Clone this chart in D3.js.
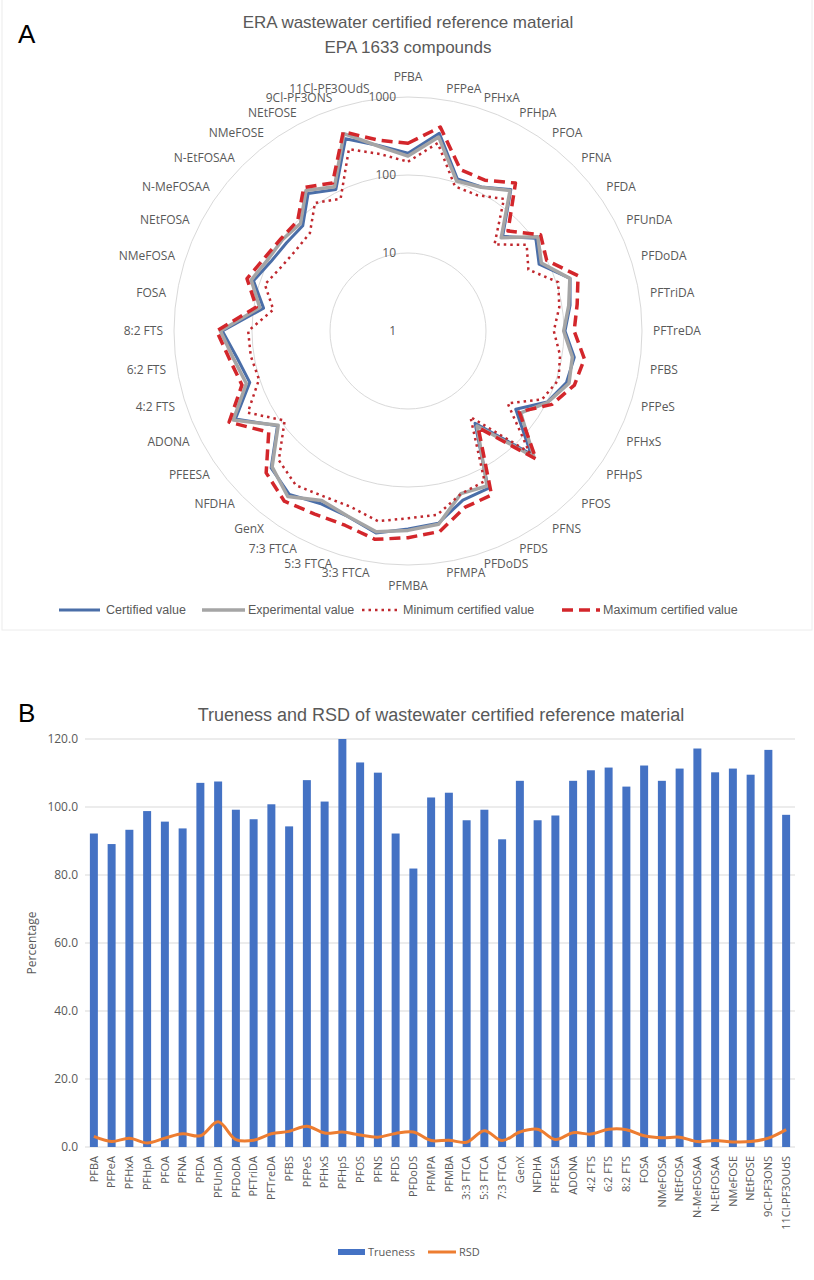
<!DOCTYPE html>
<html lang="en">
<head>
	<meta charset="UTF-8">
	<title>ERA wastewater CRM</title>
	<style>
		body { margin: 0; background: #fff; }
		svg text { fill: #595959; }
	</style>
</head>
<body>
	<svg width="814" height="1280" id="viz"></svg>

	<script src="https://d3js.org/d3.v7.min.js"></script>
	<script>

	// compounds, in chart order
	const categories = ["PFBA", "PFPeA", "PFHxA", "PFHpA", "PFOA", "PFNA", "PFDA", "PFUnDA", "PFDoDA", "PFTriDA",
		"PFTreDA", "PFBS", "PFPeS", "PFHxS", "PFHpS", "PFOS", "PFNS", "PFDS", "PFDoDS", "PFMPA",
		"PFMBA", "3:3 FTCA", "5:3 FTCA", "7:3 FTCA", "GenX", "NFDHA", "PFEESA", "ADONA", "4:2 FTS", "6:2 FTS",
		"8:2 FTS", "FOSA", "NMeFOSA", "NEtFOSA", "N-MeFOSAA", "N-EtFOSAA", "NMeFOSE", "NEtFOSE", "9Cl-PF3ONS", "11Cl-PF3OUdS"];

	// panel A (log scale)
	const certified = [190, 369, 112, 118, 175, 52, 106, 77, 153, 127, 103, 144, 137, 101, 51, 170, 29, 184, 190, 313,
		345, 419, 316, 303, 389, 303, 117, 304, 136, 165, 240, 75, 121, 93, 84, 81, 151, 109, 391, 256];
	const experimental = [175, 329, 105, 117, 168, 49, 114, 83, 152, 122, 99, 136, 148, 103, 61, 192, 32, 170, 156, 322,
		360, 403, 314, 274, 419, 291, 114, 327, 151, 184, 254, 84, 130, 104, 98, 89, 168, 119, 457, 250];
	const minCertified = [148, 275, 89, 90, 124, 37, 76, 54, 106, 92, 74, 94, 107, 85, 38, 159, 23, 145, 157, 244,
		252, 294, 235, 240, 279, 220, 90, 202, 102, 110, 112, 56, 85, 66, 59, 60, 107, 80, 283, 198];
	const maxCertified = [255, 444, 150, 148, 221, 65, 126, 99, 196, 157, 135, 195, 175, 118, 58, 209, 34, 229, 237, 400,
		447, 506, 415, 430, 498, 373, 161, 375, 173, 207, 284, 93, 148, 116, 103, 100, 188, 135, 485, 301];
	const radarTicks = [1, 10, 100, 1000];

	// panel B
	const trueness = [92.2, 89.1, 93.3, 98.8, 95.7, 93.7, 107.1, 107.5, 99.2, 96.4, 100.8, 94.3, 107.9, 101.6, 120.0, 113.1, 110.1, 92.2, 81.9, 102.8,
		104.2, 96.1, 99.2, 90.5, 107.7, 96.1, 97.5, 107.7, 110.8, 111.6, 106.0, 112.2, 107.7, 111.3, 117.2, 110.2, 111.3, 109.5, 116.8, 97.7];
	const rsd = [3.1, 1.6, 2.6, 1.2, 2.6, 3.9, 3.3, 7.4, 2.2, 2.0, 3.9, 4.6, 6.1, 4.1, 4.4, 3.5, 2.9, 4.0, 4.4, 1.9,
		2.0, 1.4, 4.8, 1.9, 4.4, 5.2, 2.2, 4.2, 3.8, 5.2, 5.1, 3.3, 2.7, 2.9, 1.6, 1.9, 1.5, 1.6, 2.6, 5.1];
	const barTicks = [0, 20, 40, 60, 80, 100, 120];

	const svg = d3.select("#viz");
	const font = "'Open Sans', sans-serif";
	const arial = "'Liberation Sans', Arial, sans-serif";

	// ---------- Panel A : radar ----------
	svg.append("rect")
		.attr("x", 2).attr("y", -2).attr("width", 810).attr("height", 632)
		.attr("fill", "none").attr("stroke", "#ececec");

	svg.append("text").attr("x", 18).attr("y", 43)
		.text("A").style("font-family", arial).style("font-size", "26px").style("fill", "#000");

	svg.append("text").attr("x", 408).attr("y", 28).attr("text-anchor", "middle")
		.text("ERA wastewater certified reference material")
		.style("font-family", arial).style("font-size", "17px");
	svg.append("text").attr("x", 408).attr("y", 53).attr("text-anchor", "middle")
		.text("EPA 1633 compounds")
		.style("font-family", arial).style("font-size", "17px");

	const cx = 408, cy = 331;
	const r = d3.scaleLog().domain([1, 1000]).range([0, 234]);
	const ang = d3.scalePoint().domain(d3.range(categories.length)).range([0, 2 * Math.PI * (categories.length - 1) / categories.length]);

	const radar = svg.append("g").attr("transform", `translate(${cx},${cy})`);

	radar.selectAll(".ring")
		.data(radarTicks.filter(d => d > 1))
		.enter().append("circle")
		.attr("class", "ring")
		.attr("r", d => r(d))
		.attr("fill", "none")
		.attr("stroke", "#d9d9d9")
		.attr("stroke-width", 1);

	radar.selectAll(".rlabel")
		.data(radarTicks)
		.enter().append("text")
		.attr("class", "rlabel")
		.attr("x", -12)
		.attr("y", d => -r(d))
		.attr("dy", "0.35em")
		.attr("text-anchor", "end")
		.text(d => d)
		.style("font-family", font).style("font-size", "12px");

	// labels: side ones centred on a circle, top/bottom ones sit just outside it
	const side = i => Math.abs(Math.sin(ang(i))) > 0.05;
	radar.selectAll(".clabel")
		.data(categories)
		.enter().append("text")
		.attr("class", "clabel")
		.attr("x", (d, i) => 245 * Math.sin(ang(i)))
		.attr("y", (d, i) => -(side(i) ? 245 : 250) * Math.cos(ang(i)))
		.attr("dy", (d, i) => side(i) ? "0.35em" : (Math.cos(ang(i)) > 0 ? "0em" : "0.75em"))
		.attr("text-anchor", (d, i) => {
			const s = Math.sin(ang(i));
			return s > 0.05 ? "start" : (s < -0.05 ? "end" : "middle");
		})
		.text(d => d)
		.style("font-family", font).style("font-size", "12px");

	const radialLine = d3.lineRadial()
		.angle((d, i) => ang(i))
		.radius(d => r(d))
		.curve(d3.curveLinearClosed);

	const series = [
		{ name: "Certified value", values: certified, color: "#4a6ea8", width: 3, dash: null },
		{ name: "Experimental value", values: experimental, color: "#a5a5a5", width: 3.5, dash: null },
		{ name: "Minimum certified value", values: minCertified, color: "#c0282e", width: 2.5, dash: "2.5,4" },
		{ name: "Maximum certified value", values: maxCertified, color: "#d3262b", width: 3.5, dash: "11,6" }
	];

	radar.selectAll(".series")
		.data(series)
		.enter().append("path")
		.attr("class", "series")
		.attr("d", s => radialLine(s.values))
		.attr("fill", "none")
		.attr("stroke", s => s.color)
		.attr("stroke-width", s => s.width)
		.attr("stroke-dasharray", s => s.dash)
		.attr("stroke-linejoin", "round");

	// legend A
	const legA = [
		{ x1: 59, x2: 100, tx: 106 },
		{ x1: 202, x2: 245, tx: 248 },
		{ x1: 362, x2: 400, tx: 403 },
		{ x1: 562, x2: 600, tx: 603 }
	];
	const lg = svg.append("g");
	lg.selectAll("line").data(series).enter().append("line")
		.attr("x1", (d, i) => legA[i].x1).attr("x2", (d, i) => legA[i].x2)
		.attr("y1", 610).attr("y2", 610)
		.attr("stroke", d => d.color)
		.attr("stroke-width", d => d.width)
		.attr("stroke-dasharray", d => d.dash);
	lg.selectAll("text").data(series).enter().append("text")
		.attr("x", (d, i) => legA[i].tx).attr("y", 610).attr("dy", "0.35em")
		.text(d => d.name)
		.style("font-family", arial).style("font-size", "12.5px");

	// ---------- Panel B : bars + RSD ----------
	svg.append("text").attr("x", 18).attr("y", 722)
		.text("B").style("font-family", arial).style("font-size", "26px").style("fill", "#000");

	svg.append("text").attr("x", 441).attr("y", 721).attr("text-anchor", "middle")
		.text("Trueness and RSD of wastewater certified reference material")
		.style("font-family", arial).style("font-size", "18px");

	const x = d3.scaleBand()
		.domain(categories)
		.range([85, 795])
		.paddingInner(0.55)
		.paddingOuter(0.275);

	const y = d3.scaleLinear()
		.domain([0, 120])
		.range([1147, 739]);

	svg.append("g")
		.selectAll("line")
		.data(barTicks)
		.enter().append("line")
		.attr("x1", 85).attr("x2", 795)
		.attr("y1", d => y(d)).attr("y2", d => y(d))
		.attr("stroke", "#d9d9d9").attr("stroke-width", 1);

	svg.append("g")
		.selectAll("text")
		.data(barTicks)
		.enter().append("text")
		.attr("x", 78).attr("y", d => y(d)).attr("dy", "0.35em")
		.attr("text-anchor", "end")
		.text(d => d3.format(".1f")(d))
		.style("font-family", font).style("font-size", "12px");

	svg.append("text")
		.attr("transform", "translate(36,943) rotate(-90)")
		.attr("text-anchor", "middle")
		.text("Percentage")
		.style("font-family", font).style("font-size", "12px");

	svg.selectAll(".bar")
		.data(trueness)
		.enter().append("rect")
		.attr("class", "bar")
		.attr("x", (d, i) => x(categories[i]))
		.attr("y", d => y(d))
		.attr("width", x.bandwidth())
		.attr("height", d => y(0) - y(d))
		.style("fill", "#4472c4");

	const rsdLine = d3.line()
		.x((d, i) => x(categories[i]) + x.bandwidth() / 2)
		.y(d => y(d))
		.curve(d3.curveCatmullRom.alpha(0.5));

	svg.append("path")
		.attr("d", rsdLine(rsd))
		.attr("fill", "none")
		.attr("stroke", "#ed7d31")
		.attr("stroke-width", 3)
		.attr("stroke-linejoin", "round");

	svg.append("g")
		.selectAll("text")
		.data(categories)
		.enter().append("text")
		.attr("transform", d => `translate(${x(d) + x.bandwidth() / 2},1156) rotate(-90)`)
		.attr("dy", "0.35em")
		.attr("text-anchor", "end")
		.text(d => d)
		.style("font-family", font).style("font-size", "11px");

	// legend B
	svg.append("rect").attr("x", 338).attr("y", 1249).attr("width", 27).attr("height", 6).style("fill", "#4472c4");
	svg.append("text").attr("x", 368).attr("y", 1252).attr("dy", "0.35em").text("Trueness")
		.style("font-family", font).style("font-size", "11px");
	svg.append("line").attr("x1", 428).attr("x2", 456).attr("y1", 1252).attr("y2", 1252)
		.attr("stroke", "#ed7d31").attr("stroke-width", 3);
	svg.append("text").attr("x", 459).attr("y", 1252).attr("dy", "0.35em").text("RSD")
		.style("font-family", font).style("font-size", "11px");

	</script>
</body>
</html>
